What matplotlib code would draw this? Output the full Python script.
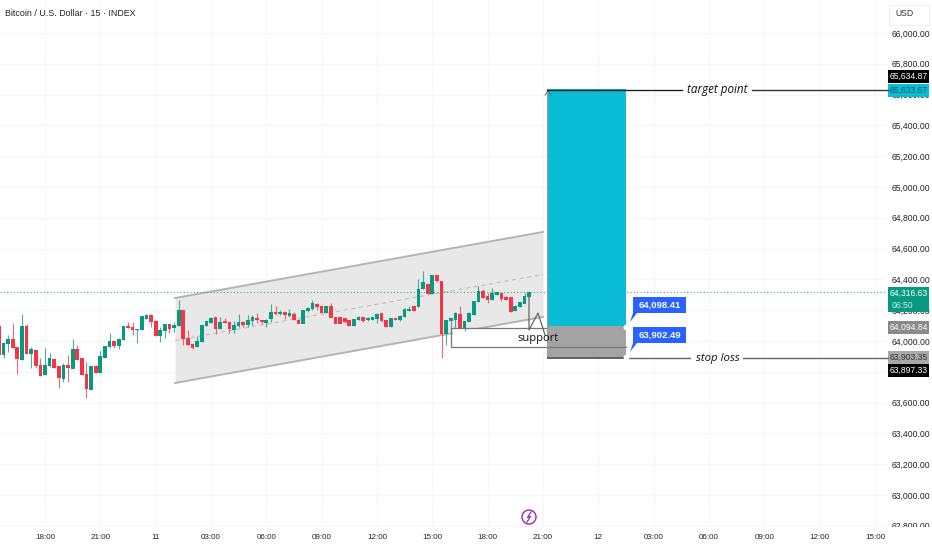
#! /usr/bin/env python3
# -*- coding: utf-8 -*-
import numpy
from matplotlib import pyplot
from matplotlib.patches import Rectangle, Circle, Polygon
from matplotlib.transforms import Bbox

# bar 0 is the 18:00 candle, one bar = 15 minutes
FIRST_BAR = -10
OPENS = [64093, 63909, 63985, 64011, 63959, 63881, 64093, 63915, 63937, 63840,
         63779, 63838, 63881, 63838, 63757, 63844, 63822, 63948, 63887, 63783,
         63686, 63838, 63794, 63894, 63963, 63996, 63967, 64006, 64097, 64089,
         64071, 64071, 64147, 64167, 64128, 64032, 64067, 64108, 64086, 64099,
         64197, 64019, 63978, 63963, 63996, 64099, 64119, 64151, 64082, 64125,
         64123, 64076, 64099, 64119, 64104, 64130, 64149, 64136, 64121, 64143,
         64186, 64180, 64184, 64167, 64175, 64132, 64115, 64195, 64208, 64240,
         64223, 64184, 64227, 64154, 64154, 64145, 64132, 64100, 64141, 64154,
         64136, 64141, 64143, 64180, 64132, 64093, 64147, 64141, 64158, 64197,
         64223, 64223, 64338, 64368, 64305, 64424, 64385, 64045, 64132, 64141,
         64175, 64078, 64128, 64169, 64255, 64320, 64288, 64266, 64299, 64310,
         64284, 64284, 64197, 64223, 64245, 64288]
HIGHS = [64093, 63996, 64039, 64119, 63959, 64175, 64110, 63963, 63937, 63887,
         63952, 63924, 63881, 63838, 63855, 63909, 64011, 63974, 63887, 63866,
         63838, 63844, 63937, 63967, 64054, 64000, 64017, 64097, 64125, 64125,
         64076, 64158, 64173, 64173, 64128, 64093, 64108, 64108, 64125, 64266,
         64197, 64071, 63978, 64032, 64104, 64132, 64154, 64151, 64154, 64151,
         64123, 64132, 64173, 64132, 64169, 64169, 64180, 64136, 64141, 64238,
         64227, 64201, 64190, 64206, 64190, 64141, 64201, 64220, 64266, 64249,
         64234, 64227, 64249, 64154, 64158, 64151, 64132, 64143, 64162, 64158,
         64154, 64158, 64184, 64184, 64136, 64147, 64151, 64169, 64212, 64227,
         64223, 64403, 64455, 64372, 64430, 64430, 64385, 64136, 64151, 64190,
         64227, 64126, 64190, 64260, 64357, 64335, 64310, 64342, 64316, 64310,
         64290, 64284, 64232, 64249, 64310, 64316]
LOWS = [63887, 63887, 63931, 63952, 63786, 63877, 63915, 63822, 63822, 63773,
        63779, 63829, 63822, 63697, 63736, 63736, 63822, 63877, 63779, 63628,
        63686, 63794, 63794, 63894, 63952, 63952, 63946, 64006, 64086, 64039,
        63985, 64071, 64141, 64089, 64032, 63996, 64017, 64054, 64060, 64099,
        63974, 63974, 63948, 63963, 63996, 64099, 64115, 64045, 64076, 64119,
        64054, 64050, 64093, 64093, 64089, 64104, 64119, 64108, 64089, 64125,
        64169, 64169, 64141, 64158, 64136, 64115, 64115, 64190, 64201, 64201,
        64180, 64184, 64154, 64115, 64115, 64115, 64097, 64097, 64136, 64126,
        64130, 64136, 64115, 64126, 64093, 64093, 64136, 64132, 64158, 64197,
        64197, 64223, 64338, 64305, 64305, 64385, 63887, 63974, 64078, 64082,
        64082, 64067, 64128, 64169, 64255, 64281, 64249, 64266, 64299, 64262,
        64266, 64189, 64193, 64223, 64245, 64288]
CLOSES = [63909, 63985, 64011, 63959, 63887, 64097, 63915, 63946, 63838, 63773,
          63844, 63887, 63829, 63764, 63844, 63827, 63946, 63877, 63779, 63688,
          63838, 63794, 63903, 63967, 64000, 63967, 64013, 64097, 64086, 64073,
          64076, 64158, 64164, 64125, 64032, 64071, 64108, 64082, 64104, 64197,
          64017, 63974, 63957, 64000, 64104, 64125, 64145, 64078, 64123, 64119,
          64078, 64104, 64119, 64108, 64136, 64151, 64136, 64125, 64136, 64186,
          64175, 64186, 64169, 64180, 64141, 64115, 64201, 64212, 64245, 64223,
          64184, 64227, 64154, 64115, 64115, 64126, 64100, 64143, 64156, 64130,
          64147, 64154, 64175, 64130, 64093, 64145, 64141, 64162, 64206, 64206,
          64197, 64338, 64379, 64310, 64424, 64392, 64050, 64136, 64145, 64180,
          64089, 64126, 64180, 64260, 64320, 64281, 64271, 64310, 64314, 64277,
          64266, 64193, 64227, 64249, 64292, 64316]

TIME_LABELS = ["18:00", "21:00", "11", "03:00", "06:00", "09:00", "12:00", "15:00",
               "18:00", "21:00", "12", "03:00", "06:00", "09:00", "12:00", "15:00"]
PRICE_TICKS = list(range(62800, 66001, 200))
# 63,800 sits fully under the black stop tag in the reference
HIDDEN_PRICES = [63800]

CHANNEL_BARS = [28.2, 108]
CHANNEL_TOP = [64279, 64708]
CHANNEL_BOTTOM = [63727, 64156]
CHANNEL_MID = [64003, 64432]

LAST_PRICE = 64316.63
ENTRY_PRICE = 64094.84
TARGET_PRICE = 65633.67
STOP_PRICE = 63897.33
BOX_BARS = [108.9, 126]

GREEN = "#089981"
RED = "#F23645"
CYAN = "#0BBCD6"
BLUE = "#2962FF"
LABEL_FONT = "Liberation Sans"
LABEL_SIZE = 6.2


def axis_tag(over, top, bottom, text, face, color):
    over.add_patch(Rectangle((888, top), 41, bottom - top, color=face, lw=0))
    over.text(908.5, (top + bottom) / 2, text, color=color, fontsize=LABEL_SIZE,
              family=LABEL_FONT, ha="center", va="center")


def callout(over, top, text):
    over.add_patch(Rectangle((633, top), 53, 16, color=BLUE, lw=0))
    over.add_patch(Polygon([(633, top + 16), (637, top + 16), (630, top + 25)],
                           color=BLUE, lw=0))
    over.text(659.5, top + 8, text, color="white", fontsize=6.8, weight="bold",
              family=LABEL_FONT, ha="center", va="center")


fig = pyplot.figure(figsize=(9.32, 5.5), dpi=100)
ax = fig.add_axes([0, 23 / 550, 886 / 932, 527 / 550])
ax.set_xlim(-9.76, 182.4)
ax.set_ylim(62792, 66214)
ax.set_axisbelow(True)
ax.grid(color="#f6f7f8", lw=0.9)
for side in ax.spines.values():
    side.set_visible(False)

ax.set_xticks(numpy.arange(len(TIME_LABELS)) * 12)
ax.set_xticklabels(TIME_LABELS, family=LABEL_FONT, fontsize=5.8, color="#222222")
ax.yaxis.tick_right()
ax.set_yticks(PRICE_TICKS)
ax.set_yticklabels(["" if p in HIDDEN_PRICES else f"{p:,.2f}" for p in PRICE_TICKS],
                   family=LABEL_FONT, fontsize=LABEL_SIZE, color="#222222")
ax.tick_params(length=0)
ax.tick_params(axis="x", pad=5)
ax.tick_params(axis="y", pad=4)
# lowest price label is cut by the time scale
for tick in ax.yaxis.get_major_ticks()[:1]:
    tick.label2.set_clip_box(Bbox([[880, 23], [932, 550]]))
    tick.label2.set_clip_on(True)

# channel behind the candles
ax.fill_between(CHANNEL_BARS, CHANNEL_BOTTOM, CHANNEL_TOP, color="#e8e8e8", lw=0, zorder=1)
ax.plot(CHANNEL_BARS, CHANNEL_TOP, color="#b4b4b4", lw=1.4, zorder=1.5)
ax.plot(CHANNEL_BARS, CHANNEL_BOTTOM, color="#b4b4b4", lw=1.4, zorder=1.5)
ax.plot(CHANNEL_BARS, CHANNEL_MID, color="#c0c0c0", lw=0.8, ls=(0, (4, 3)), zorder=1.5)
ax.axhline(LAST_PRICE, color=GREEN, lw=0.8, ls=(0, (1, 2)), alpha=0.8, zorder=1.6)

# support box
ax.add_patch(Rectangle((88.5, 63958), 20.4, 126, color="white", lw=0, zorder=1.7))

# candles
bars = numpy.arange(len(OPENS)) + FIRST_BAR
opens = numpy.array(OPENS)
closes = numpy.array(CLOSES)
colors = [GREEN if c >= o else RED for o, c in zip(opens, closes)]
ax.vlines(bars, LOWS, HIGHS, colors=colors, lw=0.8, alpha=0.75, zorder=2)
ax.bar(bars, numpy.abs(closes - opens) + 4, bottom=numpy.minimum(opens, closes) - 2,
       width=0.8, color=colors, lw=0, zorder=2.2)

# target / stop boxes
ax.add_patch(Rectangle((BOX_BARS[0], ENTRY_PRICE), BOX_BARS[1] - BOX_BARS[0],
                       TARGET_PRICE - ENTRY_PRICE, color=CYAN, lw=0, zorder=3))
ax.add_patch(Rectangle((BOX_BARS[0], STOP_PRICE), BOX_BARS[1] - BOX_BARS[0],
                       ENTRY_PRICE - STOP_PRICE, color="#a3a3a3", lw=0, zorder=3))

# everything below is placed in picture pixels, on top of the chart
over = fig.add_axes([0, 0, 1, 1])
over.set_xlim(0, 932)
over.set_ylim(550, 0)
over.axis("off")

over.text(5, 13, "Bitcoin / U.S. Dollar · 15 · INDEX", family=LABEL_FONT, fontsize=6.4,
          color="#222222", va="center")
over.add_patch(Rectangle((889, 5), 40, 20, fc="white", ec="#f0f0f0", lw=0.8))
over.text(895, 14, "USD", family=LABEL_FONT, fontsize=LABEL_SIZE, color="#333333", va="center")

# support drawing
over.plot([451, 547], [328, 328], color="#777777", lw=0.9)
over.plot([451, 451, 626], [328, 347, 347], color="#777777", lw=0.9)
over.plot([529, 529, 538, 545], [297, 330, 313, 335], color="#666666", lw=0.9)
over.text(538, 338, "support", fontsize=8, color="#111111", ha="center", va="center",
          family="Open Sans")

# target and stop lines
over.plot([547, 547], [91, 357], color="#9a9a9a", lw=0.8)
over.plot([545, 548, 551], [95, 91, 95], color="#666666", lw=0.7)
over.plot([547, 682], [90, 90], color="#222222", lw=1.0)
over.plot([752, 888], [90, 90], color="#333333", lw=1.0)
over.text(717.5, 90, "target point", style="italic", fontsize=8.4, color="#111111",
          family="Open Sans", ha="center", va="center")
over.plot([548, 626], [357.5, 357.5], color="#444444", lw=1.2)
over.plot([628, 690], [357.5, 357.5], color="#666666", lw=1.0)
over.plot([743, 888], [357.5, 357.5], color="#666666", lw=1.0)
over.text(718, 358, "stop loss", style="italic", fontsize=8.2, color="#111111",
          family="Open Sans", ha="center", va="center")
over.scatter([626, 626], [327, 357], s=10, color="white", zorder=4)

callout(over, 297, "64,098.41")
callout(over, 327, "63,902.49")

axis_tag(over, 70, 83, "65,634.87", "#000000", "white")
axis_tag(over, 84, 97, "65,633.67", CYAN, "#0a5566")
axis_tag(over, 287, 312, "", GREEN, "white")
over.text(908.5, 293, "64,316.63", color="white", fontsize=LABEL_SIZE, family=LABEL_FONT,
          ha="center", va="center")
over.text(892, 305, "06:50", color="#cfeee8", fontsize=LABEL_SIZE, family=LABEL_FONT, va="center")
axis_tag(over, 321, 334, "64,094.84", "#8a8a8a", "white")
axis_tag(over, 351, 364, "63,903.35", "#a8a8a8", "#333333")
axis_tag(over, 364, 377, "63,897.33", "#000000", "white")

# lightning mark on the time scale
over.add_patch(Circle((529, 517), 7, fc="white", ec="#9c27b0", lw=1.0))
over.plot([531, 527.5, 530.5, 527], [512, 517.5, 516.5, 522], color="#9c27b0", lw=0.9)

fig.savefig("out.png", dpi=100)
